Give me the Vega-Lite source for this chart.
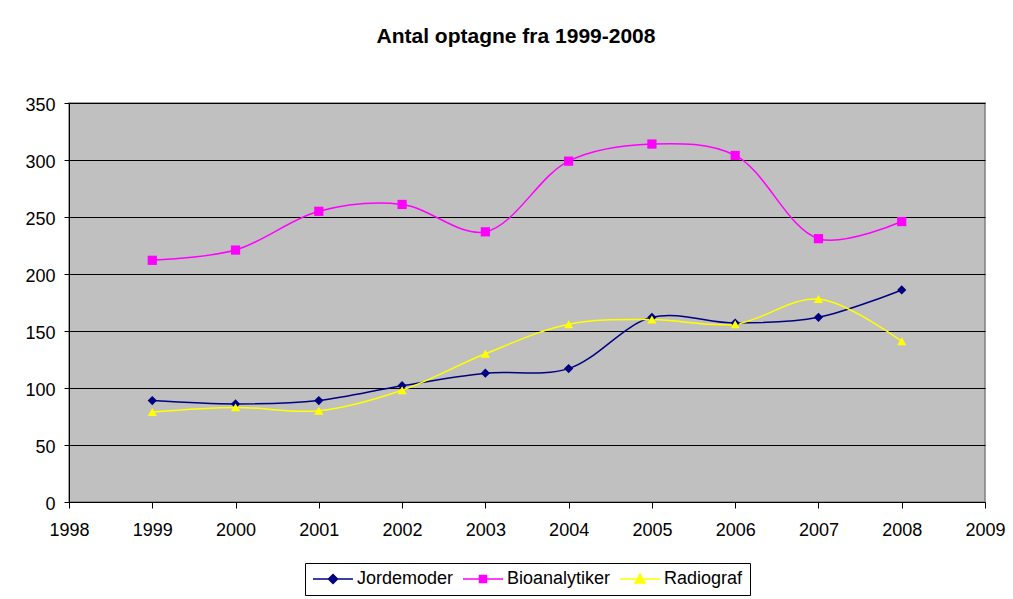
{
  "$schema": "https://vega.github.io/schema/vega-lite/v6.json",
  "autosize": {"type": "none"},
  "padding": {"left": 69, "top": 103, "right": 28, "bottom": 97},
  "width": 916,
  "height": 399,
  "background": "white",
  "title": {
    "text": "Antal optagne fra 1999-2008",
    "font": "Liberation Sans",
    "fontSize": 21,
    "fontWeight": "bold",
    "color": "black",
    "anchor": "middle",
    "dx": -11,
    "offset": 49
  },
  "config": {
    "view": {"stroke": "#808080", "fill": "#C0C0C0", "strokeWidth": 1.5},
    "axis": {
      "labelFont": "Liberation Sans",
      "labelFontSize": 18,
      "labelColor": "black",
      "domainColor": "black",
      "tickColor": "black",
      "title": null
    }
  },
  "data": {
    "values": [
      {"year": 1999, "series": "Jordemoder", "value": 89},
      {"year": 2000, "series": "Jordemoder", "value": 86},
      {"year": 2001, "series": "Jordemoder", "value": 89},
      {"year": 2002, "series": "Jordemoder", "value": 102},
      {"year": 2003, "series": "Jordemoder", "value": 113},
      {"year": 2004, "series": "Jordemoder", "value": 117},
      {"year": 2005, "series": "Jordemoder", "value": 162},
      {"year": 2006, "series": "Jordemoder", "value": 157},
      {"year": 2007, "series": "Jordemoder", "value": 162},
      {"year": 2008, "series": "Jordemoder", "value": 186},
      {"year": 1999, "series": "Bioanalytiker", "value": 212},
      {"year": 2000, "series": "Bioanalytiker", "value": 221},
      {"year": 2001, "series": "Bioanalytiker", "value": 255},
      {"year": 2002, "series": "Bioanalytiker", "value": 261},
      {"year": 2003, "series": "Bioanalytiker", "value": 237},
      {"year": 2004, "series": "Bioanalytiker", "value": 299},
      {"year": 2005, "series": "Bioanalytiker", "value": 314},
      {"year": 2006, "series": "Bioanalytiker", "value": 304},
      {"year": 2007, "series": "Bioanalytiker", "value": 231},
      {"year": 2008, "series": "Bioanalytiker", "value": 246},
      {"year": 1999, "series": "Radiograf", "value": 79},
      {"year": 2000, "series": "Radiograf", "value": 83},
      {"year": 2001, "series": "Radiograf", "value": 80},
      {"year": 2002, "series": "Radiograf", "value": 98},
      {"year": 2003, "series": "Radiograf", "value": 130},
      {"year": 2004, "series": "Radiograf", "value": 156},
      {"year": 2005, "series": "Radiograf", "value": 160},
      {"year": 2006, "series": "Radiograf", "value": 156},
      {"year": 2007, "series": "Radiograf", "value": 178},
      {"year": 2008, "series": "Radiograf", "value": 141}
    ]
  },
  "encoding": {
    "x": {
      "field": "year",
      "type": "quantitative",
      "scale": {"domain": [1998, 2009], "nice": false, "zero": false},
      "axis": {
        "values": [1998, 1999, 2000, 2001, 2002, 2003, 2004, 2005, 2006, 2007, 2008, 2009],
        "format": "d",
        "grid": false,
        "tickSize": 6,
        "labelPadding": 13,
        "labelFlush": false
      }
    },
    "y": {
      "field": "value",
      "type": "quantitative",
      "scale": {"domain": [0, 350], "nice": false},
      "axis": {
        "values": [0, 50, 100, 150, 200, 250, 300, 350],
        "grid": true,
        "gridColor": "black",
        "gridOpacity": 1,
        "gridWidth": 1,
        "tickSize": 5,
        "labelPadding": 9,
        "labelOffset": 2
      }
    },
    "color": {
      "field": "series",
      "type": "nominal",
      "scale": {
        "domain": ["Jordemoder", "Bioanalytiker", "Radiograf"],
        "range": ["#000080", "#FF00FF", "#FFFF00"]
      },
      "legend": {
        "title": null,
        "orient": "none",
        "legendX": 236,
        "legendY": 460,
        "direction": "horizontal",
        "strokeColor": "black",
        "fillColor": "white",
        "padding": 7,
        "labelFont": "Liberation Sans",
        "labelFontSize": 18,
        "labelColor": "black",
        "symbolSize": 100,
        "symbolOffset": 12,
        "labelOffset": 15,
        "columnPadding": 6,
        "symbolStrokeWidth": 1.5,
        "encode": {
          "symbols": {
            "enter": {
              "shape": {"signal": "datum.value === 'Jordemoder' ? 'M-4,0H4M0,-0.9L0.9,0L0,0.9L-0.9,0Z' : datum.value === 'Bioanalytiker' ? 'M-4,0H4M-0.7,-0.7H0.7V0.7H-0.7Z' : 'M-4,0H4M0,-1L1,0.8H-1Z'"}
            },
            "update": {
              "shape": {"signal": "datum.value === 'Jordemoder' ? 'M-4,0H4M0,-0.9L0.9,0L0,0.9L-0.9,0Z' : datum.value === 'Bioanalytiker' ? 'M-4,0H4M-0.7,-0.7H0.7V0.7H-0.7Z' : 'M-4,0H4M0,-1L1,0.8H-1Z'"},
              "fill": {"signal": "scale('color', datum.value)"},
              "stroke": {"signal": "scale('color', datum.value)"},
              "opacity": {"value": 1},
              "fillOpacity": {"value": 1}
            }
          }
        }
      }
    }
  },
  "layer": [
    {
      "mark": {"type": "line", "interpolate": "catmull-rom", "strokeWidth": 1.5}
    },
    {
      "mark": {"type": "point", "filled": true, "opacity": 1},
      "encoding": {
        "shape": {
          "condition": [
            {"test": "datum.series === 'Jordemoder'", "value": "diamond"},
            {"test": "datum.series === 'Bioanalytiker'", "value": "square"}
          ],
          "value": "triangle-up"
        },
        "size": {"value": 85}
      }
    }
  ]
}
